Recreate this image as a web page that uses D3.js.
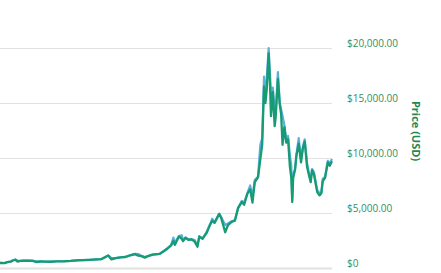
<!DOCTYPE html>
<html>
<head>
<meta charset="utf-8">
<script src="https://cdn.jsdelivr.net/npm/d3@7"></script>
<style>
html,body{margin:0;padding:0;background:#fff;}
svg{display:block;}
</style>
</head>
<body>
<svg id="chart" width="441" height="273"></svg>
<script>
const dates = ["2016-05-15","2016-05-25","2016-05-31","2016-06-07","2016-06-12","2016-06-17","2016-06-22","2016-06-28","2016-07-05","2016-07-15","2016-07-25","2016-08-02","2016-08-10","2016-08-20","2016-09-01","2016-09-15","2016-10-01","2016-10-15","2016-10-30","2016-11-10","2016-11-25","2016-12-10","2016-12-20","2016-12-28","2017-01-04","2017-01-11","2017-01-20","2017-01-31","2017-02-10","2017-02-23","2017-03-03","2017-03-10","2017-03-17","2017-03-24","2017-03-31","2017-04-10","2017-04-25","2017-05-05","2017-05-12","2017-05-20","2017-05-25","2017-05-28","2017-06-06","2017-06-12","2017-06-15","2017-06-20","2017-06-27","2017-07-03","2017-07-10","2017-07-16","2017-07-20","2017-07-27","2017-08-05","2017-08-12","2017-08-17","2017-08-22","2017-09-01","2017-09-05","2017-09-14","2017-09-20","2017-09-28","2017-10-05","2017-10-12","2017-10-20","2017-10-25","2017-11-01","2017-11-07","2017-11-12","2017-11-17","2017-11-24","2017-11-29","2017-12-03","2017-12-07","2017-12-10","2017-12-13","2017-12-17","2017-12-20","2017-12-22","2017-12-26","2017-12-30","2018-01-01","2018-01-06","2018-01-10","2018-01-13","2018-01-16","2018-01-20","2018-01-24","2018-01-28","2018-02-01","2018-02-04","2018-02-06","2018-02-08","2018-02-12","2018-02-15","2018-02-20","2018-02-25","2018-03-01","2018-03-05","2018-03-10","2018-03-15","2018-03-18","2018-03-21","2018-03-25","2018-04-01","2018-04-06","2018-04-10","2018-04-13","2018-04-18","2018-04-24","2018-04-28","2018-05-03"];

const closePrices = [455,450,530,580,680,750,590,650,670,660,655,540,590,580,570,610,615,640,700,715,740,775,800,975,1130,780,895,970,1000,1180,1260,1120,1080,940,1080,1210,1280,1550,1750,2050,2450,2100,2870,2650,2440,2750,2550,2600,2400,1930,2850,2650,3200,3900,4300,4100,4900,4600,3250,3900,4200,4300,5450,6000,5750,6750,7150,5950,7800,8250,9900,11200,16500,15000,16300,19500,16600,13800,16000,12900,13600,17200,14900,14000,11200,12800,11400,11700,9200,8200,6000,8200,8900,10200,11300,9600,10900,11500,9200,8300,7800,8900,8500,6900,6600,6800,7900,8200,9600,9300,9700];

const highPrices = [460,455,545,590,700,775,680,660,680,668,662,610,600,585,580,615,620,645,720,720,745,780,810,980,1150,900,905,975,1010,1190,1280,1270,1100,1000,1090,1220,1290,1580,1800,2080,2760,2300,2900,2980,2500,2770,2600,2630,2550,2050,2900,2700,3280,3950,4480,4150,4950,4650,3900,4050,4250,4350,5500,6100,5950,6800,7500,6500,8000,8300,11200,11800,17400,15600,17300,20000,17600,15800,16400,14500,14000,17800,15000,14400,13800,13000,11700,12000,10200,9300,6300,8500,9000,10300,11800,9900,11000,11700,9600,8400,8200,9000,8700,7100,6800,6900,8100,8300,9750,9500,9900];

const tickValues = [0, 5000, 10000, 15000, 20000];
const tickLabels = ["$0", "$5,000.00", "$10,000.00", "$15,000.00", "$20,000.00"];
const axisTitle = "Price (USD)";

const parse = d3.timeParse("%Y-%m-%d");
const data = dates.map((d, i) => ({date: parse(d), close: closePrices[i], high: highPrices[i]}));

const svg = d3.select("#chart");
const plotRight = 332;

const x = d3.scaleTime().domain(d3.extent(data, d => d.date)).range([0, plotRight]);
const y = d3.scaleLinear().domain([0, 20000]).range([268, 48]);

// gridlines
const grid = svg.append("g").attr("transform", `translate(${plotRight},0)`)
  .call(d3.axisLeft(y).tickValues(tickValues).tickSize(plotRight).tickFormat(""));
grid.select(".domain").remove();
grid.selectAll("line").attr("stroke", "#e2e2e2").attr("stroke-width", d => d === 0 ? 2 : 1);

// right axis labels
const axis = svg.append("g").attr("transform", `translate(${plotRight},0)`)
  .call(d3.axisRight(y).tickValues(tickValues).tickSize(0).tickPadding(15)
    .tickFormat((d, i) => tickLabels[i]));
axis.select(".domain").remove();
axis.selectAll("text")
  .attr("dy", "-0.15em")
  .attr("fill", "#2f8f62")
  .style("font-family", "'Open Sans', sans-serif")
  .style("font-size", "10px");

// axis title
svg.append("text")
  .attr("transform", `translate(412,${(100 + 162) / 2}) rotate(90)`)
  .attr("text-anchor", "middle")
  .attr("fill", "#1f8a57")
  .style("font-family", "'Open Sans', sans-serif")
  .style("font-size", "11px")
  .style("font-weight", "bold")
  .text(axisTitle);

// lines
const highLine = d3.line().x(d => x(d.date)).y(d => y(d.high));
const closeLine = d3.line().x(d => x(d.date)).y(d => y(d.close));

svg.append("path").datum(data)
  .attr("d", highLine)
  .attr("fill", "none")
  .attr("stroke", "#5aaee0")
  .attr("stroke-width", 2.2)
  .attr("stroke-linejoin", "round");

svg.append("path").datum(data)
  .attr("d", closeLine)
  .attr("fill", "none")
  .attr("stroke", "#169b72")
  .attr("stroke-width", 2.3)
  .attr("stroke-linejoin", "round");
</script>
</body>
</html>
